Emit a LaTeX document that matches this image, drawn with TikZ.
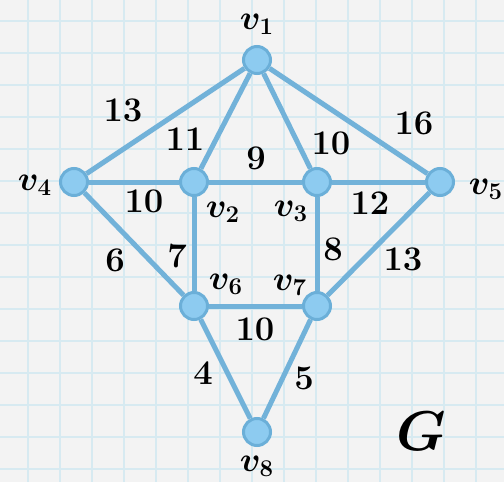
\RequirePackage{fix-cm}
\documentclass[tikz,border=0pt]{standalone}
\usepackage{bm}

\definecolor{paper}{HTML}{F3F3F3}
\definecolor{gridblue}{HTML}{D7EAF1}
\definecolor{edgeblue}{HTML}{72B2D9}
\definecolor{nodefill}{HTML}{8DCBF0}
\definecolor{nodeline}{HTML}{6BAFD8}

\tikzset{
  vertex/.style={circle,fill=nodefill,draw=nodeline,line width=1.5pt,
    minimum size=13.5pt,inner sep=0pt},
  edge/.style={draw=edgeblue,line width=2.5pt},
  weight/.style={font=\LARGE,inner sep=0pt},
  vname/.style={font=\LARGE,inner sep=0pt},
  gridline/.style={draw=gridblue,line width=0.9pt},
}

\begin{document}
\begin{tikzpicture}[x=0.5pt,y=-0.5pt]

%====================================================
% Paper
%====================================================
\useasboundingbox[fill=paper] (0,0) rectangle (504,482);

\foreach \gx in {0,...,14}
  \draw[gridline] ({28+32*\gx},0) -- ++(0,482);
\foreach \gy in {0,...,14}
  \draw[gridline] (0,{21+32*\gy}) -- ++(504,0);

%====================================================
% Vertices
%====================================================
\node[vertex] (v1) at (257,60) {};
\node[vertex] (v2) at (194,182) {};
\node[vertex] (v3) at (317,182) {};
\node[vertex] (v4) at (74,182) {};
\node[vertex] (v5) at (440,182) {};
\node[vertex] (v6) at (194,306) {};
\node[vertex] (v7) at (317,306) {};
\node[vertex] (v8) at (257,432) {};

% Names
\node[vname] (n1) at (257,24) {$\bm{v_1}$};
\node[vname] (n2) at (223,212) {$\bm{v_2}$};
\node[vname] (n3) at (291,211) {$\bm{v_3}$};
\node[vname] (n4) at (35,185) {$\bm{v_4}$};
\node[vname] (n5) at (486,189) {$\bm{v_5}$};
\node[vname] (n6) at (226,284) {$\bm{v_6}$};
\node[vname] (n7) at (290,285) {$\bm{v_7}$};
\node[vname] (n8) at (257,466) {$\bm{v_8}$};

%====================================================
% Edges
%====================================================
\draw[edge] (v1) -- (v4);
\draw[edge] (v1) -- (v2);
\draw[edge] (v1) -- (v3);
\draw[edge] (v1) -- (v5);
\draw[edge] (v4) -- (v2);
\draw[edge] (v2) -- (v3);
\draw[edge] (v3) -- (v5);
\draw[edge] (v4) -- (v6);
\draw[edge] (v2) -- (v6);
\draw[edge] (v3) -- (v7);
\draw[edge] (v5) -- (v7);
\draw[edge] (v6) -- (v7);
\draw[edge] (v6) -- (v8);
\draw[edge] (v7) -- (v8);

% Weights
\node[weight] (w14) at (123,110) {$\mathbf{13}$};
\node[weight] (w12) at (185,139) {$\mathbf{11}$};
\node[weight] (w13) at (331,143) {$\mathbf{10}$};
\node[weight] (w15) at (414,123) {$\mathbf{16}$};
\node[weight] (w23) at (256,158) {$\mathbf{9}$};
\node[weight] (w42) at (144,201) {$\mathbf{10}$};
\node[weight] (w35) at (370,203) {$\mathbf{12}$};
\node[weight] (w46) at (115,260) {$\mathbf{6}$};
\node[weight] (w26) at (177,256) {$\mathbf{7}$};
\node[weight] (w37) at (333,249) {$\mathbf{8}$};
\node[weight] (w57) at (403,259) {$\mathbf{13}$};
\node[weight] (w67) at (255,329) {$\mathbf{10}$};
\node[weight] (w68) at (203,373) {$\mathbf{4}$};
\node[weight] (w78) at (304,378) {$\mathbf{5}$};

% Graph name
\node[inner sep=0pt,font=\fontsize{28}{30}\selectfont] (gname) at (421,431) {$\bm{G}$};

\end{tikzpicture}
\end{document}
